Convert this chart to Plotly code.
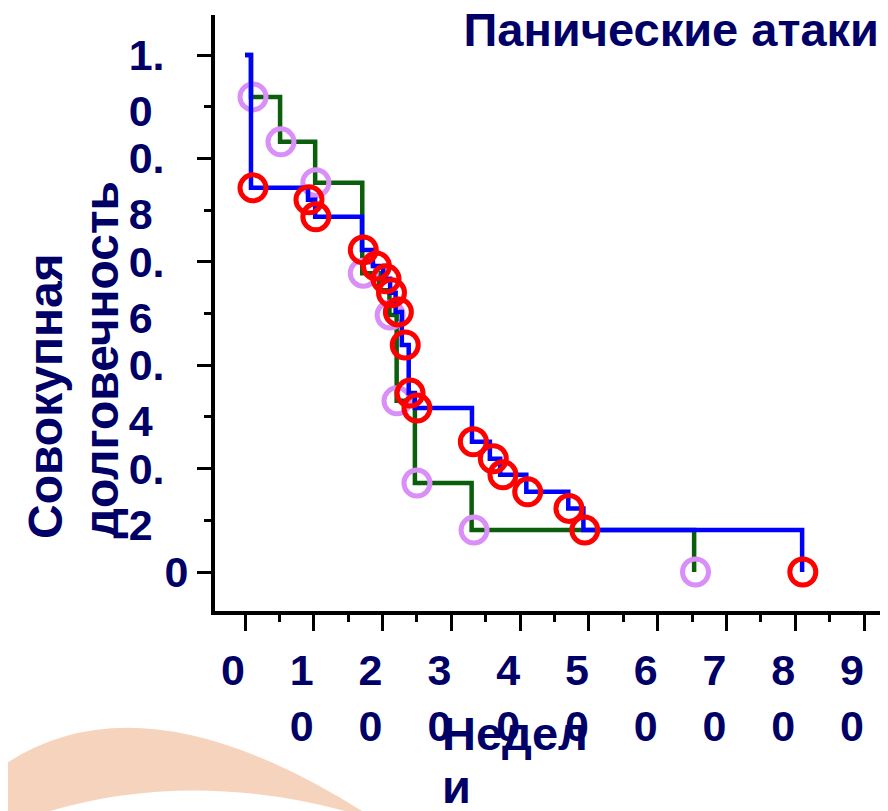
import plotly.graph_objects as go

# ---- data ----
# Group 1 (dark green step curve) and its circle marks
green_t = [0, 0.87, 5.1, 10.2, 17.05, 19.5, 21.0, 22.05, 24.7, 32.95, 65.3]
green_s = [1.0, 0.919, 0.832, 0.753, 0.578, 0.545, 0.497, 0.331, 0.172, 0.081, 0.0]
violet_t = [1.16, 5.23, 10.3, 17.2, 21.1, 22.1, 25.0, 33.3, 65.5]
violet_s = [0.919, 0.832, 0.753, 0.578, 0.497, 0.331, 0.172, 0.081, 0.0]

# Group 2 (blue step curve) and its circle marks
blue_t = [0, 0.87, 9.16, 10.2, 17.0, 18.6, 20.1, 21.1, 21.9, 22.8, 23.8, 24.7,
          33.0, 35.6, 37.1, 40.9, 47.0, 49.2, 81.0]
blue_s = [1.0, 0.743, 0.720, 0.687, 0.623, 0.592, 0.567, 0.540, 0.503, 0.439, 0.346, 0.317,
          0.252, 0.219, 0.188, 0.155, 0.123, 0.081, 0.0]
red_t = [1.16, 9.3, 10.3, 17.2, 19.1, 20.5, 21.3, 22.3, 23.3, 24.0, 25.0,
         33.2, 36.1, 37.5, 41.1, 47.1, 49.4, 81.1]
red_s = [0.743, 0.720, 0.687, 0.623, 0.592, 0.567, 0.540, 0.503, 0.439, 0.346, 0.317,
         0.252, 0.219, 0.188, 0.155, 0.123, 0.081, 0.0]

x_tickvals = [0, 10, 20, 30, 40, 50, 60, 70, 80, 90]
x_ticktext = ["0", "1<br>0", "2<br>0", "3<br>0", "4<br>0", "5<br>0",
              "6<br>0", "7<br>0", "8<br>0", "9<br>0"]
y_tickvals = [0, 0.2, 0.4, 0.6, 0.8, 1.0]
y_ticktext = ["0", "0.", "0.", "0.", "0.", "1."]
y_ticktext2 = ["", "2", "4", "6", "8", "0"]

title_text = "Панические атаки"
ytitle_lines = ["Совокупная", "долговечность"]
xtitle_lines = ["Недел", "и"]

NAVY = "#000066"
FONT = "Liberation Sans, Arial, sans-serif"
NB = "\u00a0"

# y tick labels: first line at the tick, second line below
ylabels = []
for a, b in zip(y_ticktext, y_ticktext2):
    if b:
        ylabels.append(NB + "<br>" + a + NB * 2 + "<br>" + b + NB * 3)
    else:
        ylabels.append(a)

fig = go.Figure()
fig.add_trace(go.Scatter(x=green_t, y=green_s, mode="lines", line_shape="hv",
                         line=dict(color="#0B5E0B", width=4.5), showlegend=False))
fig.add_trace(go.Scatter(x=violet_t, y=violet_s, mode="markers",
                         marker=dict(symbol="circle-open", size=26, color="#DA8EF8",
                                     line=dict(color="#DA8EF8", width=5)),
                         showlegend=False))
fig.add_trace(go.Scatter(x=blue_t, y=blue_s, mode="lines", line_shape="hv",
                         line=dict(color="#0000FF", width=4.5), showlegend=False))
fig.add_trace(go.Scatter(x=red_t, y=red_s, mode="markers",
                         marker=dict(symbol="circle-open", size=26, color="#FF0000",
                                     line=dict(color="#FF0000", width=5)),
                         showlegend=False))

# page has an 8px body margin; figure is drawn from (8,8)
OFF = 8
W, H = 888 - OFF, 811 - OFF
# plot area in page pixels
L, R, T, B = 215, 888, 15, 611
# data -> page pixel mapping
X0, XS = 245, 6.878     # page x of t=0, px per week
Y0, YS = 572, 517       # page y of s=0, px per unit


def paper(xp, yp):
    return (xp - L) / (R - L), (B - yp) / (B - T)


# decorative peach arc from the slide background (bottom-left)
pts = [(-10, 775), (130, 665), (362, 811), (345, 811), (190, 770), (50, 811), (-10, 811)]
p = [paper(*q) for q in pts]
path = ("M {0[0]:.4f},{0[1]:.4f} Q {1[0]:.4f},{1[1]:.4f} {2[0]:.4f},{2[1]:.4f} "
        "L {3[0]:.4f},{3[1]:.4f} Q {4[0]:.4f},{4[1]:.4f} {5[0]:.4f},{5[1]:.4f} "
        "L {6[0]:.4f},{6[1]:.4f} Z").format(*p)

annots = []
# y-axis title: two rotated lines, both starting at the bottom
for xc, txt in zip([45, 101], ytitle_lines):
    ax_, ay_ = paper(xc, 541)
    annots.append(dict(text=txt, textangle=-90, showarrow=False,
                       xref="paper", yref="paper", x=ax_, y=ay_,
                       xanchor="center", yanchor="bottom",
                       font=dict(family=FONT, size=48, color=NAVY, weight="bold")))
# x-axis title: two left-aligned lines
for yc, txt in zip([733, 786], xtitle_lines):
    ax_, ay_ = paper(440, yc)
    annots.append(dict(text=txt, showarrow=False,
                       xref="paper", yref="paper", x=ax_, y=ay_,
                       xanchor="left", yanchor="middle",
                       font=dict(family=FONT, size=47, color=NAVY, weight="bold")))

fig.update_layout(
    width=W, height=H,
    margin=dict(l=L - OFF, r=W - (R - OFF), t=T - OFF, b=H - (B - OFF), pad=0,
                autoexpand=False),
    paper_bgcolor="white", plot_bgcolor="white",
    showlegend=False,
    title=dict(text=title_text, x=(879 - OFF) / W, xanchor="right",
               y=1 - (30 - OFF) / H, yanchor="middle",
               xref="container", yref="container", automargin=False,
               font=dict(family=FONT, size=47, color=NAVY, weight="bold")),
    shapes=[dict(type="path", xref="paper", yref="paper", path=path,
                 fillcolor="#F6D3BD", line=dict(width=0), layer="below")],
    annotations=annots,
)

fig.update_xaxes(
    range=[(L - X0) / XS, (R - X0) / XS], automargin=False,
    showline=True, linecolor="black", linewidth=4, mirror=False,
    showgrid=False, zeroline=False,
    tickmode="array", tickvals=x_tickvals, ticktext=x_ticktext,
    ticks="outside", ticklen=16, tickwidth=3, tickcolor="black",
    minor=dict(dtick=5, tick0=0, ticks="outside", ticklen=7, tickwidth=3,
               tickcolor="black", showgrid=False),
    tickfont=dict(family=FONT, size=43, color=NAVY, weight="bold"),
    ticklabelstandoff=2, ticklabelshift=-12, ticklabeloverflow="allow",
)
fig.update_yaxes(
    range=[(Y0 - B) / YS, (Y0 - T) / YS], automargin=False,
    showline=True, linecolor="black", linewidth=4, mirror=False,
    showgrid=False, zeroline=False,
    tickmode="array", tickvals=y_tickvals, ticktext=ylabels,
    ticks="outside", ticklen=14, tickwidth=3, tickcolor="black",
    minor=dict(dtick=0.1, tick0=0, ticks="outside", ticklen=7, tickwidth=3,
               tickcolor="black", showgrid=False),
    tickfont=dict(family=FONT, size=43, color=NAVY, weight="bold"),
    ticklabelstandoff=0, ticklabeloverflow="allow",
)

fig.write_html("out.html")
